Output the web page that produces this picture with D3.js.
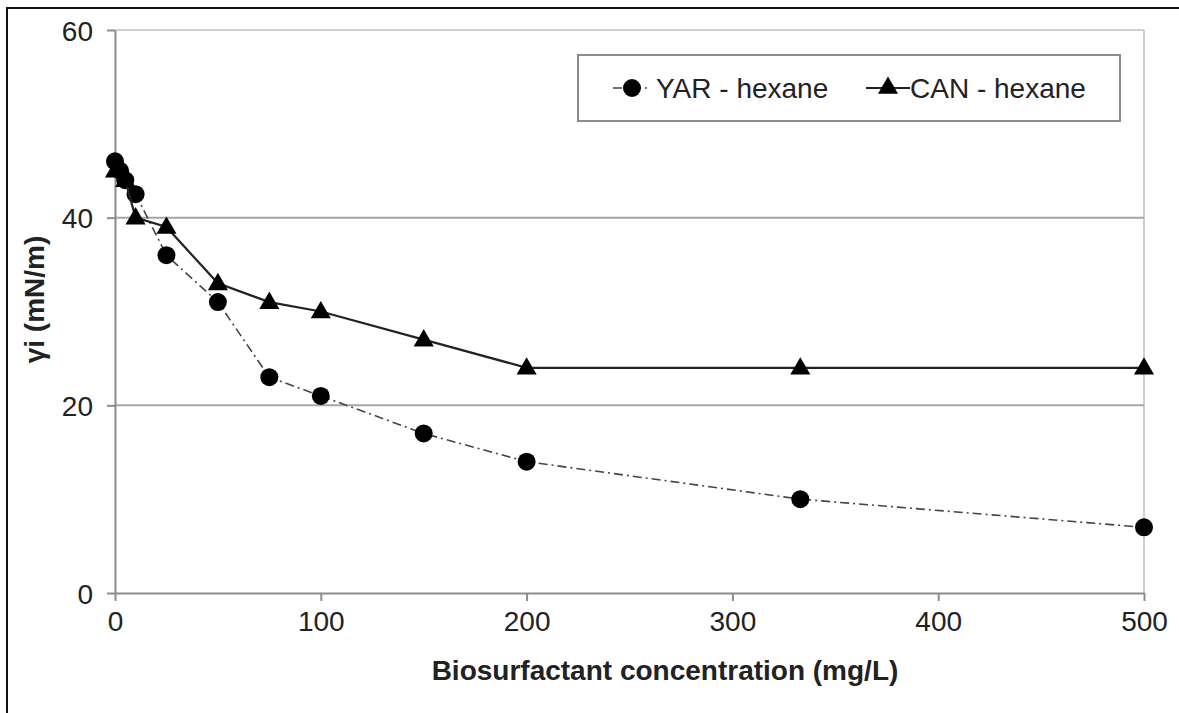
<!DOCTYPE html>
<html>
<head>
<meta charset="utf-8">
<script src="https://cdn.jsdelivr.net/npm/d3@7"></script>
<style>
  html, body { margin: 0; padding: 0; background: #fff; }
  svg { display: block; font-family: "Liberation Sans", Arial, sans-serif; }
</style>
</head>
<body>
<svg id="chart" width="1179" height="713"></svg>
<script>
// Interfacial tension vs. biosurfactant concentration
const yarConc = [0, 2.5, 5, 10, 25, 50, 75, 100, 150, 200, 333, 500];
const yarTension = [46, 45, 44, 42.5, 36, 31, 23, 21, 17, 14, 10, 7];
const canConc = [0, 5, 10, 25, 50, 75, 100, 150, 200, 333, 500];
const canTension = [45, 44, 40, 39, 33, 31, 30, 27, 24, 24, 24];
const xTicks = [0, 100, 200, 300, 400, 500];
const yTicks = [0, 20, 40, 60];
const seriesNames = ["YAR - hexane", "CAN - hexane"];

const svg = d3.select("#chart");
const plotLeft = 115, plotRight = 1144, plotTop = 30, plotBottom = 593;
const fs = 28;

const x = d3.scaleLinear().domain([0, 500]).range([plotLeft, plotRight]);
const y = d3.scaleLinear().domain([0, 60]).range([plotBottom, plotTop]);

// outer frame edges
svg.append("line").attr("x1", 7).attr("x2", 7).attr("y1", 7).attr("y2", 713)
  .attr("stroke", "#111").attr("stroke-width", 2);
svg.append("line").attr("x1", 7).attr("x2", 1179).attr("y1", 8).attr("y2", 8)
  .attr("stroke", "#111").attr("stroke-width", 2);

// plot area top/right edges
svg.append("line").attr("x1", plotLeft).attr("x2", plotRight).attr("y1", plotTop).attr("y2", plotTop)
  .attr("stroke", "#cfcfcf").attr("stroke-width", 2);
svg.append("line").attr("x1", plotRight).attr("x2", plotRight).attr("y1", plotTop).attr("y2", plotBottom)
  .attr("stroke", "#cfcfcf").attr("stroke-width", 2);

// horizontal gridlines
svg.append("g").selectAll("line").data(yTicks.filter(d => d > 0 && d < 60)).join("line")
  .attr("x1", plotLeft).attr("x2", plotRight)
  .attr("y1", d => y(d)).attr("y2", d => y(d))
  .attr("stroke", "#a6a6a6").attr("stroke-width", 2);

// axes
const xAxis = d3.axisBottom(x).tickValues(xTicks).tickSize(8).tickPadding(10).tickSizeOuter(0);
const yAxis = d3.axisLeft(y).tickValues(yTicks).tickSize(8).tickPadding(14).tickSizeOuter(0);

const gx = svg.append("g").attr("transform", `translate(0,${plotBottom})`).call(xAxis);
const gy = svg.append("g").attr("transform", `translate(${plotLeft},0)`).call(yAxis);
[gx, gy].forEach(g => {
  g.select(".domain").attr("stroke", "#8c8c8c").attr("stroke-width", 2);
  g.selectAll(".tick line").attr("stroke", "#8c8c8c").attr("stroke-width", 2);
  g.selectAll(".tick text").attr("fill", "#222").attr("font-size", fs)
    .attr("font-family", "'Liberation Sans', Arial, sans-serif");
});
gy.selectAll(".tick text").attr("dy", "0.36em");

// axis titles
svg.append("text").attr("x", 665).attr("y", 680)
  .attr("text-anchor", "middle").attr("font-size", fs).attr("font-weight", "bold")
  .attr("fill", "#222").text("Biosurfactant concentration (mg/L)");
svg.append("text").attr("transform", `translate(44,${(plotTop + plotBottom) / 2 - 12}) rotate(-90)`)
  .attr("text-anchor", "middle").attr("font-size", fs).attr("font-weight", "bold")
  .attr("fill", "#222").text("γi (mN/m)");

const yarData = yarConc.map((c, i) => [c, yarTension[i]]);
const canData = canConc.map((c, i) => [c, canTension[i]]);
const line = d3.line().x(d => x(d[0])).y(d => y(d[1]));

// YAR series: dash-dot line with circles
svg.append("path").datum(yarData).attr("d", line)
  .attr("fill", "none").attr("stroke", "#444").attr("stroke-width", 1.6)
  .attr("stroke-dasharray", "9,4,2,4");
svg.append("g").selectAll("circle").data(yarData).join("circle")
  .attr("cx", d => x(d[0])).attr("cy", d => y(d[1])).attr("r", 9).attr("fill", "#000");

// CAN series: solid line with triangles
svg.append("path").datum(canData).attr("d", line)
  .attr("fill", "none").attr("stroke", "#222").attr("stroke-width", 2.2);
const tri = d3.symbol().type(d3.symbolTriangle).size(175);
svg.append("g").selectAll("path").data(canData).join("path")
  .attr("d", tri)
  .attr("transform", d => `translate(${x(d[0])},${y(d[1]) + 1})`)
  .attr("fill", "#000");

// legend
const lg = svg.append("g");
lg.append("rect").attr("x", 578).attr("y", 55).attr("width", 542).attr("height", 66)
  .attr("fill", "#fff").attr("stroke", "#8c8c8c").attr("stroke-width", 2);
const ly = 88;
lg.append("line").attr("x1", 613).attr("x2", 650).attr("y1", ly).attr("y2", ly)
  .attr("stroke", "#444").attr("stroke-width", 1.6).attr("stroke-dasharray", "9,4,2,4");
lg.append("circle").attr("cx", 632).attr("cy", ly).attr("r", 9).attr("fill", "#000");
lg.append("text").attr("x", 656).attr("y", ly).attr("dy", "0.36em").attr("font-size", fs)
  .attr("fill", "#222").text(seriesNames[0]);
lg.append("line").attr("x1", 866).attr("x2", 910).attr("y1", ly).attr("y2", ly)
  .attr("stroke", "#222").attr("stroke-width", 2.2);
lg.append("path").attr("d", tri).attr("transform", `translate(888,${ly})`).attr("fill", "#000");
lg.append("text").attr("x", 910).attr("y", ly).attr("dy", "0.36em").attr("font-size", fs)
  .attr("fill", "#222").text(seriesNames[1]);
</script>
</body>
</html>
